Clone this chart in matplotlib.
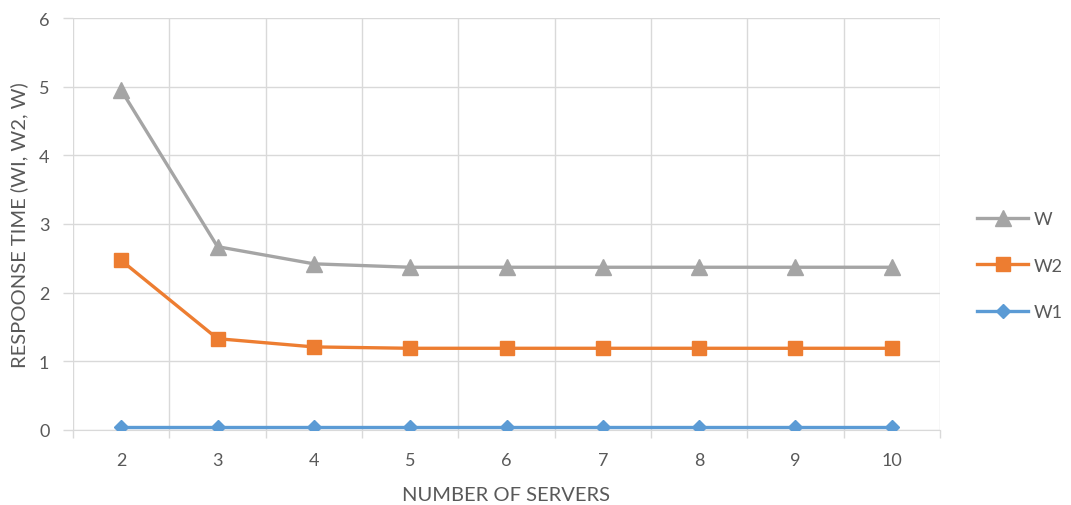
import matplotlib
matplotlib.use("Agg")
import matplotlib.pyplot as plt
from matplotlib.ticker import FixedLocator

plt.rcParams['font.family'] = ['Lato', 'DejaVu Sans']

servers = [2, 3, 4, 5, 6, 7, 8, 9, 10]
w_total = [4.95, 2.67, 2.42, 2.37, 2.37, 2.37, 2.37, 2.37, 2.37]
w2 = [2.47, 1.33, 1.21, 1.19, 1.19, 1.19, 1.19, 1.19, 1.19]
w1 = [0.04, 0.04, 0.04, 0.04, 0.04, 0.04, 0.04, 0.04, 0.04]

text_color = '#595959'
grid_color = '#d9d9d9'

fig = plt.figure(figsize=(10.71, 5.06), dpi=100)
ax = fig.add_axes([73 / 1071, (506 - 431) / 506, (940 - 73) / 1071, (431 - 19) / 506])

pos = list(range(len(servers)))
ax.plot(pos, w_total, color='#A5A5A5', lw=2.4, marker='^', ms=11, label='W', zorder=3)
ax.plot(pos, w2, color='#ED7D31', lw=2.4, marker='s', ms=10, label='W2', zorder=3)
ax.plot(pos, w1, color='#5B9BD5', lw=2.4, marker='D', ms=7, label='W1', zorder=3)

ax.set_xlim(-0.5, len(servers) - 0.5)
ax.set_ylim(0, 6)
ax.set_xticks(pos)
ax.set_xticklabels([str(s) for s in servers])
ax.xaxis.set_minor_locator(FixedLocator([p - 0.5 for p in pos] + [len(servers) - 0.5]))
ax.set_yticks(range(0, 7))

ax.grid(True, which='minor', axis='x', color=grid_color, lw=1)
ax.grid(True, which='major', axis='y', color=grid_color, lw=1)
ax.set_axisbelow(True)

for side in ['top', 'right', 'left']:
    ax.spines[side].set_visible(False)
ax.spines['bottom'].set_color(grid_color)

ax.tick_params(axis='x', which='major', length=0, pad=16, labelsize=13, labelcolor=text_color)
ax.tick_params(axis='x', which='minor', length=6, color=grid_color, width=1)
ax.tick_params(axis='y', length=7, color=grid_color, width=1, pad=10, labelsize=13, labelcolor=text_color)

ax.set_xlabel('NUMBER OF SERVERS', fontsize=14.5, color=text_color, labelpad=13)
ax.set_ylabel('RESPOONSE TIME (WI, W2, W)', fontsize=14.5, color=text_color, labelpad=8)

leg = fig.legend(loc='upper left', bbox_to_anchor=(961 / 1071, (506 - 196) / 506),
                 frameon=False, fontsize=13, handlelength=2.8, handletextpad=0.3,
                 labelspacing=1.68, labelcolor=text_color)

fig.savefig('out.png', dpi=100, facecolor='white')
